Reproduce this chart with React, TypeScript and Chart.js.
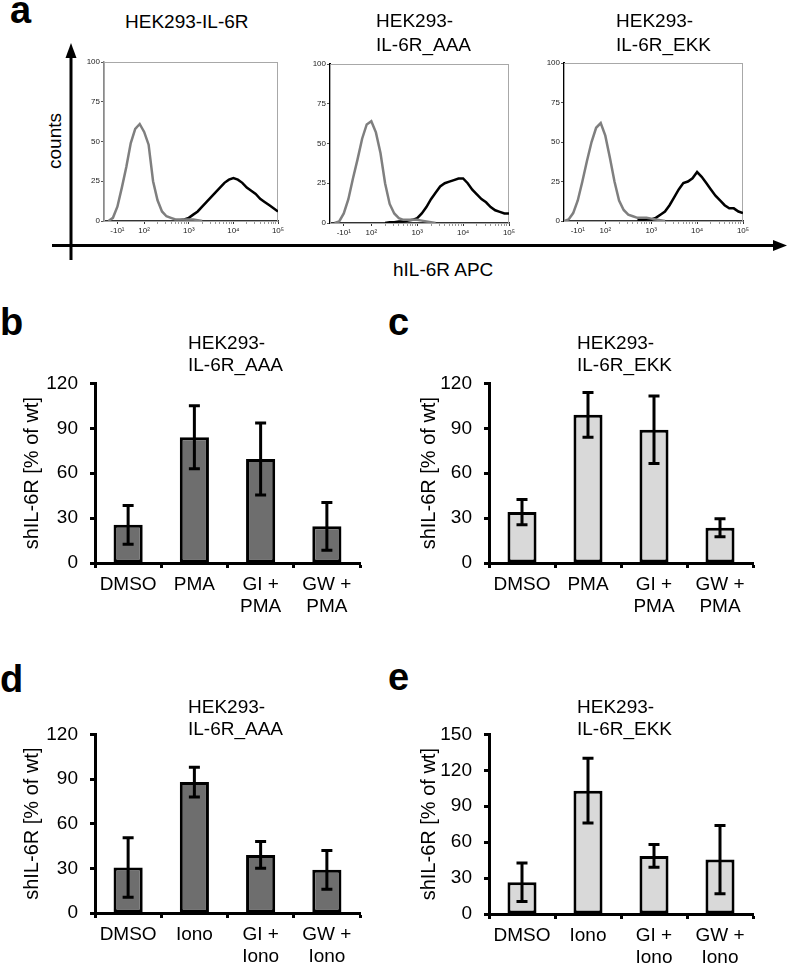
import React, { useEffect, useRef } from 'react';
import { Chart, registerables } from 'chart.js';

Chart.register(...registerables);

const FONT = '"Liberation Sans", Arial, Helvetica, sans-serif';
const N = null;

// ---------- Panel a: flow cytometry histograms (x in decade units of hIL-6R APC) ----------
const histX = [1.1, 1.2, 1.3, 1.4, 1.5, 1.6, 1.7, 1.8, 1.9, 2.0, 2.1, 2.2, 2.3, 2.4, 2.5, 2.6, 2.7, 2.8, 2.9, 3.0,
  3.1, 3.2, 3.3, 3.4, 3.5, 3.6, 3.7, 3.8, 3.9, 4.0, 4.1, 4.2, 4.3, 4.4, 4.5, 4.6, 4.7, 4.8, 4.9, 5.0];

const hist1Control = [N, 0, 2, 9, 21, 34, 49, 58, 61, 56, 48, 25, 13, 6, 3, 2, 1, 1, 1, 1, 1, 0.5, 0,
  N, N, N, N, N, N, N, N, N, N, N, N, N, N, N, N, N];
const hist1Stained = [N, N, N, N, N, N, N, N, N, N, N, N, N, N, N, N,
  0, 0.5, 1, 2, 4, 6, 9, 12, 15, 18, 21, 24, 26, 27, 26, 24, 21, 19, 17, 14, 12, 10, 8, 6];

const hist2Control = [N, 0, 1, 6, 15, 28, 40, 53, 62, 64, 57, 44, 25, 12, 6, 3, 2, 2, 2, 2, 1.5, 1, 0.5, 0,
  N, N, N, N, N, N, N, N, N, N, N, N, N, N, N, N];
const hist2Stained = [N, N, N, N, N, N, N, N, N, N, N, N,
  0, 0.5, 0.5, 1, 1, 1.5, 2, 3, 6, 10, 15, 19, 23, 25, 26, 27, 28, 28, 25, 21, 18, 15, 13, 10, 8, 7, 6, 6];

const hist3Control = [0, 1, 5, 13, 25, 38, 50, 59, 62, 54, 40, 25, 13, 7, 4, 3, 2, 2, 2, 1.5, 1, 0.5, 0,
  N, N, N, N, N, N, N, N, N, N, N, N, N, N, N, N, N];
const hist3Stained = [N, N, N, N, N, N, N, N, N, N, N, N, N, N, N, N,
  0.5, 0.5, 1, 1, 2, 4, 6, 10, 15, 20, 24, 25, 27, 31, 28, 24, 20, 16, 13, 10, 8, 8, 6, 5];

const histMajorTicks = [1.4, 2, 3, 4, 5];
const histMajorLabels = ['-10¹', '10²', '10³', '10⁴', '10⁵'];
const histYTicks = [0, 25, 50, 75, 100];

// ---------- Panels b-e: bar charts ----------
const pmaCategories = [['DMSO'], ['PMA'], ['GI +', 'PMA'], ['GW +', 'PMA']];
const ionoCategories = [['DMSO'], ['Iono'], ['GI +', 'Iono'], ['GW +', 'Iono']];

const bAAAMeans = [25.5, 84, 69.5, 24.5];
const bAAAErrors = [13, 21, 24, 16];
const cEKKMeans = [34, 99, 89, 23.5];
const cEKKErrors = [8.5, 15, 22.5, 6];
const dAAAMeans = [30.5, 88, 39, 29];
const dAAAErrors = [20, 10, 9, 13];
const eEKKMeans = [26.5, 103, 48.5, 45.5];
const eEKKErrors = [16, 27, 9.5, 28.5];

const Y_TITLE = 'shIL-6R [% of wt]';
const DARK = '#6e6e6e';
const LIGHT = '#d9d9d9';

// minor decade ticks (axis decoration only)
const histMinorTicks: number[] = [];
for (let n = 2; n <= 4; n++) for (let k = 2; k <= 9; k++) histMinorTicks.push(n + Math.log10(k));
const histXTicks = [...histMajorTicks, ...histMinorTicks].sort((a, b) => a - b);

function histLabel(v: number) {
  const i = histMajorTicks.findIndex((m) => Math.abs(m - v) < 1e-6);
  return i >= 0 ? histMajorLabels[i] : '';
}

const boxPlugin = {
  id: 'histBox',
  beforeDatasetsDraw(chart: any) {
    const { ctx, chartArea: a } = chart;
    ctx.save();
    ctx.strokeStyle = '#a8a8a8';
    ctx.lineWidth = 1;
    ctx.strokeRect(a.left + 0.5, a.top + 0.5, a.right - a.left - 1, a.bottom - a.top);
    ctx.restore();
  },
};

const errorBarPlugin = {
  id: 'errorBars',
  afterDatasetsDraw(chart: any, _args: any, opts: any) {
    const errs: number[] = opts.errors || [];
    const meta = chart.getDatasetMeta(0);
    const ys = chart.scales.y;
    const vals = chart.data.datasets[0].data as number[];
    const ctx = chart.ctx;
    ctx.save();
    ctx.strokeStyle = '#000';
    ctx.lineWidth = 3;
    meta.data.forEach((bar: any, i: number) => {
      const x = bar.x;
      const top = ys.getPixelForValue(vals[i] + errs[i]);
      const bot = ys.getPixelForValue(vals[i] - errs[i]);
      ctx.beginPath();
      ctx.moveTo(x, top);
      ctx.lineTo(x, bot);
      ctx.moveTo(x - 5.5, top);
      ctx.lineTo(x + 5.5, top);
      ctx.moveTo(x - 5.5, bot);
      ctx.lineTo(x + 5.5, bot);
      ctx.stroke();
    });
    ctx.restore();
  },
};

function histConfig(control: (number | null)[], stained: (number | null)[], xh: number, leftColor: string, leftWidth: number) {
  const pts = (arr: (number | null)[]) => histX.map((x, i) => ({ x, y: arr[i] }));
  return {
    type: 'line',
    data: {
      datasets: [
        { data: pts(control), borderColor: '#7f7f7f', borderWidth: 2.5, pointRadius: 0, tension: 0, fill: false },
        { data: pts(stained), borderColor: '#000', borderWidth: 2.5, pointRadius: 0, tension: 0, fill: false },
      ],
    },
    options: {
      animation: false,
      responsive: false,
      devicePixelRatio: 1,
      layout: { padding: { top: 12, right: 12, left: 0, bottom: 0 } },
      plugins: { legend: { display: false }, tooltip: { enabled: false } },
      scales: {
        x: {
          type: 'linear',
          min: 1.1,
          max: 5,
          afterBuildTicks: (s: any) => { s.ticks = histXTicks.map((v) => ({ value: v })); },
          ticks: { autoSkip: false, maxRotation: 0, color: '#222', padding: 2, font: { family: FONT, size: 8 }, callback: (v: any) => histLabel(Number(v)) },
          grid: {
            drawOnChartArea: false, tickLength: 3, tickWidth: 1,
            tickColor: (c: any) => (histLabel(c.tick ? c.tick.value : 0) ? '#333' : '#999'),
          },
          border: { color: '#333', width: 1.5 },
          afterFit: (s: any) => { s.height = xh; },
        },
        y: {
          min: 0,
          max: 100,
          afterBuildTicks: (s: any) => { s.ticks = histYTicks.map((v) => ({ value: v })); },
          ticks: { color: '#222', padding: 1, font: { family: FONT, size: 8 } },
          grid: { drawOnChartArea: false, tickLength: 3, tickWidth: 1, tickColor: '#555' },
          border: { color: leftColor, width: leftWidth },
          afterFit: (s: any) => { s.width = 24; },
        },
      },
    },
    plugins: [boxPlugin],
  };
}

function barConfig(labels: string[][], means: number[], errors: number[], color: string, yMax: number, yW: number, xH: number) {
  return {
    type: 'bar',
    data: {
      labels,
      datasets: [{
        data: means, backgroundColor: color, borderColor: '#000', borderWidth: 3,
        borderSkipped: false, barPercentage: 0.44, categoryPercentage: 1,
      }],
    },
    options: {
      animation: false,
      responsive: false,
      devicePixelRatio: 1,
      layout: { padding: { top: 17, right: 10, left: 0, bottom: 0 } },
      plugins: { legend: { display: false }, tooltip: { enabled: false }, errorBars: { errors } },
      scales: {
        x: {
          grid: { offset: true, drawOnChartArea: false, tickLength: 5, tickWidth: 3, tickColor: '#000' },
          border: { color: '#000', width: 3 },
          ticks: { color: '#000', padding: 6, maxRotation: 0, autoSkip: false, font: { family: FONT, size: 19, lineHeight: 1.15 } },
          afterFit: (s: any) => { s.height = xH; },
        },
        y: {
          min: 0,
          max: yMax,
          ticks: { stepSize: 30, color: '#000', padding: 12, font: { family: FONT, size: 19 } },
          grid: { drawOnChartArea: false, tickLength: 5, tickWidth: 3, tickColor: '#000' },
          border: { color: '#000', width: 3 },
          title: { display: true, text: Y_TITLE, color: '#000', padding: 0, font: { family: FONT, size: 20, lineHeight: 1.2 } },
          afterFit: (s: any) => { s.width = yW; },
        },
      },
    },
    plugins: [errorBarPlugin],
  };
}

function ChartBox({ left, top, width, height, make }: { left: number; top: number; width: number; height: number; make: () => any }) {
  const ref = useRef<HTMLCanvasElement>(null);
  useEffect(() => {
    const chart = new Chart(ref.current as HTMLCanvasElement, make());
    return () => chart.destroy();
  }, []);
  return (
    <div style={{ position: 'absolute', left, top, width, height }}>
      <canvas ref={ref} width={width} height={height} style={{ display: 'block', width, height }} />
    </div>
  );
}

function Txt({ left, top, size = 19, lh = 22, bold = false, children, style }: any) {
  return (
    <div style={{ position: 'absolute', left, top, fontSize: size, lineHeight: lh + 'px', fontWeight: bold ? 700 : 400, whiteSpace: 'pre', color: '#000', ...style }}>
      {children}
    </div>
  );
}

export default function App() {
  return (
    <div style={{ position: 'absolute', left: 0, top: 0, width: 787, height: 967, overflow: 'hidden', background: '#fff', fontFamily: FONT }}>
      {/* panel a axes arrows */}
      <svg width={787} height={967} style={{ position: 'absolute', left: 0, top: 0 }}>
        <line x1={71} y1={260} x2={71} y2={54} stroke="#000" strokeWidth={3} />
        <polygon points="71,43 65.5,58 76.5,58" fill="#000" />
        <line x1={52} y1={245.5} x2={776} y2={245.5} stroke="#000" strokeWidth={3} />
        <polygon points="787,245.5 773,240 773,251" fill="#000" />
      </svg>

      <ChartBox left={80} top={50} width={210} height={190} make={() => histConfig(hist1Control, hist1Stained, 19, '#8a8a8a', 1.5)} />
      <ChartBox left={306} top={52} width={215} height={190} make={() => histConfig(hist2Control, hist2Stained, 19, '#000', 2)} />
      <ChartBox left={540} top={51} width={215} height={190} make={() => histConfig(hist3Control, hist3Stained, 20, '#000', 2)} />

      <ChartBox left={20} top={360} width={350} height={270} make={() => barConfig(pmaCategories, bAAAMeans, bAAAErrors, DARK, 120, 75, 67)} />
      <ChartBox left={417} top={360} width={346} height={270} make={() => barConfig(pmaCategories, cEKKMeans, cEKKErrors, LIGHT, 120, 72, 67)} />
      <ChartBox left={20} top={711} width={350} height={256} make={() => barConfig(ionoCategories, dAAAMeans, dAAAErrors, DARK, 120, 75, 54)} />
      <ChartBox left={417} top={711} width={346} height={256} make={() => barConfig(ionoCategories, eEKKMeans, eEKKErrors, LIGHT, 150, 72, 53)} />

      {/* panel letters */}
      <Txt left={10} top={-9} size={38} lh={38} bold>a</Txt>
      <Txt left={0} top={303} size={38} lh={38} bold>b</Txt>
      <Txt left={388} top={303} size={38} lh={38} bold>c</Txt>
      <Txt left={0} top={660} size={38} lh={38} bold>d</Txt>
      <Txt left={388} top={658} size={38} lh={38} bold>e</Txt>

      {/* panel a titles */}
      <Txt left={125} top={10} lh={24}>HEK293-IL-6R</Txt>
      <Txt left={376} top={9} lh={24}>{'HEK293-\nIL-6R_AAA'}</Txt>
      <Txt left={616} top={9} lh={24}>{'HEK293-\nIL-6R_EKK'}</Txt>
      <div style={{ position: 'absolute', left: 55, top: 141, transform: 'translate(-50%, -50%) rotate(-90deg)', fontSize: 19, lineHeight: '22px', whiteSpace: 'nowrap' }}>counts</div>
      <Txt left={393} top={259}>hIL-6R APC</Txt>

      {/* bar chart titles */}
      <Txt left={188} top={332}>{'HEK293-\nIL-6R_AAA'}</Txt>
      <Txt left={577} top={332}>{'HEK293-\nIL-6R_EKK'}</Txt>
      <Txt left={188} top={696}>{'HEK293-\nIL-6R_AAA'}</Txt>
      <Txt left={577} top={696}>{'HEK293-\nIL-6R_EKK'}</Txt>
    </div>
  );
}
